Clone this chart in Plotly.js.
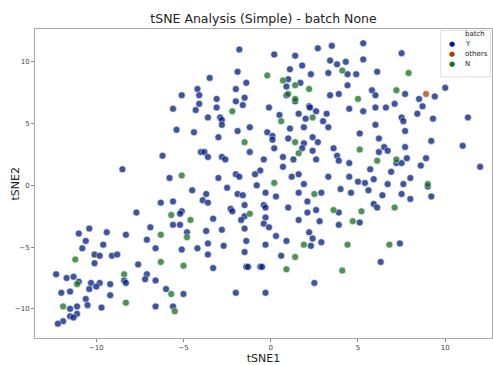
<!DOCTYPE html>
<html>
<head>
<meta charset="utf-8">
<script src="https://cdn.plot.ly/plotly-3.0.1.min.js"></script>
<style>html,body{margin:0;padding:0;background:#fff;}#chart{width:493px;height:365px;}</style>
</head>
<body>
<div id="chart"></div>
<script>
// batch = Y
const yX = [-5.1,-5.6,-5.4,-6.2,-8.5,-5.8,-1.8,0.2,1.4,2.7,3.5,1.8,3.4,-3.5,-1.9,1.1,2.3,3.3,-1.4,1.0,1.7,0.9,-4.2,-2.0,-4.1,0.9,3.4,-3.1,-1.5,-2.0,1.4,-4.1,-1.6,2.2,2.25,-3.1,-0.1,-4.3,1.6,2.6,3.2,0.5,-3.6,-2.9,-2.8,2.0,3.0,-2.8,-1.2,1.9,3.3,1.1,-4.4,-1.9,-0.2,0.1,0.1,-3.0,2.4,1.0,1.9,2.7,3.6,0.2,1.8,-4.0,-3.8,-1.2,2.4,-3.6,-2.8,-2.6,-0.4,0.7,1.3,2.6,-0.6,0.7,1.6,1.2,-2.0,-1.8,-0.9,-3.0,3.3,
5.3,7.5,3.8,4.3,5.3,4.4,4.9,6.1,4.4,3.9,5.8,6.0,7.7,10.0,9.4,8.5,7.1,6.6,6.0,8.7,4.5,5.3,8.4,7.5,7.6,9.3,11.3,6.0,7.7,5.1,6.2,9.2,11.0,7.7,6.5,6.7,6.2,3.8,3.9,7.8,8.9,7.2,7.5,4.5,8.6,12.0,5.7,6.9,4.5,5.9,8.0,
-6.3,-5.6,-7.7,-5.1,-5.2,-5.6,-5.2,-6.9,-10.4,-9.4,-11.0,-8.3,-10.6,-7.1,-9.6,-10.8,-6.6,-5.1,-10.1,-9.8,-9.1,-8.8,-10.1,-7.6,-12.3,-7.1,-11.7,-11.3,-7.2,-6.6,-11.0,-10.3,-9.8,-10.0,-9.2,-8.4,-8.3,-10.4,-12.0,-11.5,-6.0,-5.0,-9.2,-10.6,-10.5,-11.5,-11.1,-9.7,-6.6,-5.6,-11.1,-11.5,-11.3,-11.9,-12.2,
-4.5,-2.5,-0.8,1.9,-3.7,-3.9,-3.6,-1.9,-1.6,-0.3,0.3,1.6,2.9,2.1,-1.5,-0.4,-0.3,-2.3,-2.2,1.0,2.1,2.6,-1.5,-1.7,-0.3,-3.3,1.6,2.8,-0.4,-0.1,-4.8,-3.7,-2.8,-1.5,2.2,0.3,2.4,-1.4,0.9,2.9,-3.6,2.3,-0.3,-2.7,-4.2,-1.5,-3.6,0.6,-3.3,-1.4,-1.3,-0.6,-0.5,2.5,-2.0,-0.3,
5.0,5.4,6.7,7.6,9.0,4.0,5.6,4.6,6.4,7.5,9.2,8.0,5.9,6.1,3.9,5.1,3.9,7.4,6.3];
const yY = [7.3,6.2,4.5,2.4,1.3,0.6,11.0,10.6,10.5,11.1,11.3,9.7,10.1,8.7,9.2,9.4,9.0,9.1,8.3,8.6,8.3,8.0,7.8,7.8,7.3,7.3,7.3,7.0,7.1,6.8,6.8,6.6,6.5,6.4,6.3,6.3,6.3,6.1,5.8,6.0,5.8,5.7,5.5,5.5,5.3,5.4,5.2,4.9,4.7,4.7,4.7,4.6,4.3,4.4,4.3,4.0,3.7,3.9,3.9,3.8,3.4,3.5,3.0,3.0,3.0,2.7,2.7,2.7,2.8,2.3,2.3,2.1,2.1,2.3,2.1,2.1,1.2,1.5,0.9,0.7,0.9,0.7,0.9,0.6,0.7,
11.5,10.7,9.8,10.0,10.2,9.0,9.0,9.2,8.1,7.4,7.7,7.3,7.4,7.9,7.2,7.0,6.6,6.3,6.3,6.4,6.2,6.0,5.8,5.5,5.2,5.4,5.5,4.9,4.4,4.2,3.8,3.6,3.2,3.1,3.1,2.8,2.7,2.4,2.0,2.2,2.2,1.8,1.8,1.8,1.6,1.5,1.3,1.1,0.7,0.5,0.6,
-1.4,-1.3,-2.2,-2.1,-2.3,-3.2,-3.2,-3.4,-3.5,-3.8,-3.9,-4.0,-4.5,-4.4,-4.8,-5.1,-5.1,-5.2,-5.6,-5.7,-5.7,-5.6,-6.3,-6.4,-7.2,-7.2,-7.5,-7.4,-7.6,-7.7,-7.8,-7.9,-7.9,-8.2,-8.0,-7.7,-7.9,-8.4,-8.7,-8.6,-8.4,-8.8,-8.9,-9.2,-9.7,-10.0,-9.8,-9.9,-9.8,-9.8,-10.4,-10.6,-10.7,-11.0,-11.2,
-0.4,-0.2,0.0,0.1,-0.7,-1.2,-1.4,-0.7,-0.8,-0.6,-0.9,-0.6,-0.6,-1.3,-1.6,-1.6,-1.8,-1.9,-2.1,-1.8,-2.2,-2.0,-2.5,-2.8,-2.6,-2.7,-2.8,-2.9,-3.1,-3.4,-3.8,-3.7,-3.6,-3.5,-3.8,-4.1,-4.3,-4.5,-4.5,-4.6,-4.7,-4.9,-4.8,-4.9,-5.1,-5.4,-5.6,-5.7,-6.7,-6.6,-6.6,-6.6,-6.6,-7.9,-8.7,-8.7,
0.3,0.2,0.1,0.1,-0.1,-0.3,-0.4,-0.6,-0.8,-0.7,-0.9,-1.1,-1.5,-1.8,-2.2,-3.0,-3.2,-4.7,-6.2];

// batch = others
const oX = [8.9];
const oY = [7.4];

// batch = N
const nX = [-5.1,-0.2,0.7,1.4,2.2,1.0,1.4,-2.2,0.6,2.4,-1.5,1.4,1.6,4.1,7.9,7.2,5.0,5.1,6.1,7.2,-5.7,-6.3,-11.2,-6.3,-5.0,-8.4,-11.1,-5.7,-8.3,-11.9,-5.5,0.2,2.5,3.6,-1.2,-4.6,-4.8,1.9,1.4,0.9,9.0,7.1,5.2,4.7,4.4,6.8,4.1];
const nY = [0.8,8.9,8.5,8.1,7.8,7.4,7.0,6.0,5.2,5.5,3.5,3.5,2.6,9.3,9.1,7.7,7.0,2.9,2.0,2.1,-2.4,-4.0,-6.0,-6.2,-6.5,-7.2,-8.0,-8.8,-9.5,-9.8,-10.2,0.2,-0.7,-2.0,-2.3,-2.8,-4.2,-4.8,-5.8,-6.8,0.1,-1.8,-2.1,-2.9,-4.8,-4.8,-6.9];

const batchNames = ['Y', 'others', 'N'];
const batchColors = ['#001c7f', '#b1400d', '#12711c'];
const legendTitle = 'batch';
const tickVals = [-10, -5, 0, 5, 10];

const series = [[yX, yY], [oX, oY], [nX, nY]];
const traces = series.map((d, i) => ({
  x: d[0], y: d[1], name: batchNames[i], type: 'scatter', mode: 'markers',
  marker: {size: 7, color: batchColors[i], opacity: 0.75, line: {color: '#ffffff', width: 0.6}},
  showlegend: false
}));

// compact legend (matplotlib-like) built from layout annotations in paper coordinates
const legTop = 0.984, legStep = 0.0325, legDotX = 0.912, legTextX = 0.937;
const annotations = [{
  xref: 'paper', yref: 'paper', x: legTextX, y: legTop, xanchor: 'left', yanchor: 'middle',
  text: legendTitle, showarrow: false, font: {size: 7, color: '#222222'}
}];
batchNames.forEach((n, i) => {
  const yy = legTop - legStep * (i + 1);
  annotations.push({xref: 'paper', yref: 'paper', x: legDotX, y: yy, xanchor: 'center', yanchor: 'middle',
    text: '●', showarrow: false, font: {size: 7, color: batchColors[i]}});
  annotations.push({xref: 'paper', yref: 'paper', x: legTextX, y: yy, xanchor: 'left', yanchor: 'middle',
    text: n, showarrow: false, font: {size: 7, color: '#222222'}});
});
// y axis title
annotations.push({xref: 'paper', yref: 'paper', x: -0.0416, y: 0.5, xanchor: 'center', yanchor: 'middle',
  text: 'tSNE2', textangle: -90, showarrow: false, font: {size: 11, color: '#222222'}});

const axisBase = {
  showgrid: false, zeroline: false, showline: true, mirror: true,
  linecolor: '#aaaaaa', linewidth: 1,
  ticks: 'outside', ticklen: 3, tickcolor: '#888888', tickwidth: 1,
  tickfont: {size: 7, color: '#444444', family: 'DejaVu Sans'},
  tickvals: tickVals
};

const layout = {
  width: 493, height: 365,
  margin: {l: 35, r: 1, t: 29, b: 27, autoexpand: false},
  paper_bgcolor: '#ffffff', plot_bgcolor: '#ffffff',
  font: {family: 'DejaVu Sans', color: '#222222'},
  title: {text: 'tSNE Analysis (Simple) - batch None', font: {size: 12.5, color: '#222222'},
          x: 0.5, xref: 'paper', xanchor: 'center', y: 0.948, yanchor: 'middle'},
  xaxis: Object.assign({}, axisBase, {range: [-13.51, 12.68],
          title: {text: 'tSNE1', font: {size: 11, color: '#222222'}, standoff: 6}}),
  yaxis: Object.assign({}, axisBase, {range: [-12.36, 12.66]}),
  showlegend: false,
  shapes: [{type: 'rect', xref: 'paper', yref: 'paper', x0: 0.888, x1: 0.996, y0: 0.845, y1: 0.996,
            line: {color: '#dddddd', width: 1}, fillcolor: 'rgba(255,255,255,0.85)', layer: 'above'}],
  annotations: annotations
};

Plotly.newPlot('chart', traces, layout, {displayModeBar: false, staticPlot: true});
</script>
</body>
</html>
